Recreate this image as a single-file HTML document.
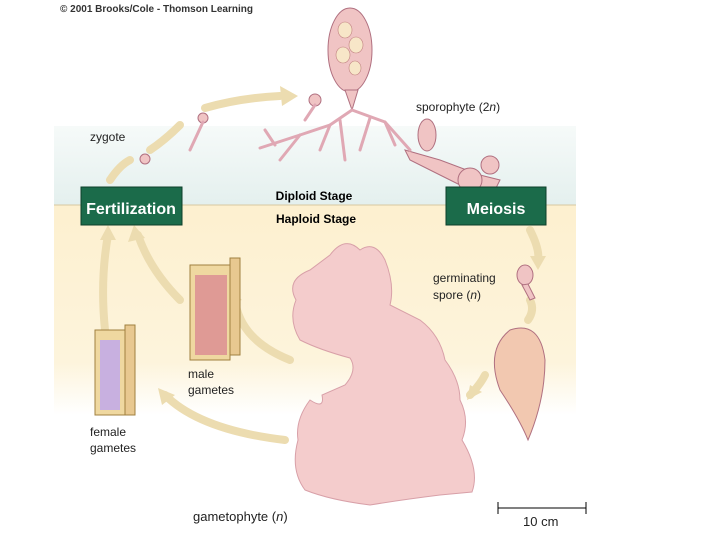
<!DOCTYPE html>
<html><head><style>
body{margin:0;background:#fff;}
svg{display:block;font-family:"Liberation Sans",sans-serif;}
</style></head><body>
<svg width="720" height="540" viewBox="0 0 720 540" xmlns="http://www.w3.org/2000/svg">
<defs>
<linearGradient id="top" x1="0" y1="0" x2="0" y2="1">
<stop offset="0" stop-color="#f6faf9"/><stop offset="1" stop-color="#e4f0ee"/></linearGradient>
<linearGradient id="bot" x1="0" y1="0" x2="0" y2="1">
<stop offset="0" stop-color="#fdf0cf"/><stop offset="0.75" stop-color="#fdf4dc"/><stop offset="1" stop-color="#ffffff"/></linearGradient>
</defs>
<rect x="54" y="126" width="522" height="79" fill="url(#top)"/>
<rect x="54" y="205" width="522" height="210" fill="url(#bot)"/>
<line x1="54" y1="205" x2="576" y2="205" stroke="#d8c8a0" stroke-width="1"/>
<text x="60" y="12" font-size="10" font-weight="bold" fill="#333">© 2001 Brooks/Cole - Thomson Learning</text>

<g fill="none" stroke="#ecdcb0" stroke-width="8" stroke-linecap="round">
<path d="M110 180 Q120 165 130 160"/>
<path d="M150 150 Q165 140 180 125"/>
<path d="M205 108 Q240 98 280 96"/>
<path d="M530 230 Q540 250 538 260"/>
<path d="M530 300 Q535 310 528 320"/>
<path d="M485 375 Q480 385 470 395"/>
<path d="M105 330 Q100 280 108 235"/>
<path d="M180 300 Q150 270 138 235"/>
<path d="M290 360 Q240 340 235 300"/>
<path d="M285 440 Q200 430 165 395"/>
</g>
<g fill="#ecdcb0">
<polygon points="298,96 280,86 282,106"/>
<polygon points="108,225 100,240 116,240"/>
<polygon points="134,225 128,242 145,238"/>
<polygon points="228,287 225,305 242,300"/>
<polygon points="158,388 162,405 175,395"/>
<polygon points="538,270 530,256 546,256"/>
<polygon points="467,400 470,385 482,392"/>
</g>

<g fill="#f0c4c4" stroke="#b07080" stroke-width="1">
<ellipse cx="350" cy="50" rx="22" ry="42"/>
<path d="M345 90 L352 110 L358 90 Z"/>
<ellipse cx="427" cy="135" rx="9" ry="16"/>
<path d="M405 150 L440 160 L480 175 L500 180 L495 190 L470 190 L440 175 L410 160 Z"/>
<circle cx="470" cy="180" r="12"/><circle cx="490" cy="165" r="9"/>
<circle cx="315" cy="100" r="6"/>
<circle cx="145" cy="159" r="5"/>
<circle cx="203" cy="118" r="5"/>
</g>
<g fill="none" stroke="#e0a8b4" stroke-width="3" stroke-linecap="round">
<path d="M352 110 L330 125 L300 135 L260 148"/>
<path d="M352 110 L385 122 L410 150"/>
<path d="M330 125 L320 150 M300 135 L280 160 M370 118 L360 150 M385 122 L395 145 M340 120 L345 160 M275 145 L265 130"/>
<path d="M203 122 L190 150"/>
<path d="M315 105 L305 120"/>
</g>
<g stroke="#c08080" fill="#f7e6c8" stroke-width="0.6">
<ellipse cx="345" cy="30" rx="7" ry="8"/><ellipse cx="356" cy="45" rx="7" ry="8"/><ellipse cx="343" cy="55" rx="7" ry="8"/><ellipse cx="355" cy="68" rx="6" ry="7"/>
</g>

<g fill="#f0c4c4" stroke="#b07080" stroke-width="1">
<ellipse cx="525" cy="275" rx="8" ry="10"/><path d="M522 285 L530 300 L535 298 L528 284Z"/>
<path d="M510 330 Q540 320 545 360 Q545 400 528 440 Q520 420 500 390 Q485 350 510 330Z" fill="#f2c8b0"/>
</g>

<path d="M330 255 Q345 235 360 250 Q375 240 385 260 Q395 285 390 305 L420 320 Q440 335 445 360 Q460 380 460 400 Q470 420 462 440 Q480 470 472 492 L440 495 Q400 500 370 505 Q330 500 305 490 Q290 470 298 440 Q295 420 310 400 Q325 410 322 395 L345 385 Q358 370 350 358 Q320 350 300 340 Q288 320 296 300 Q285 280 310 270 Z" fill="#f4cccc" stroke="#d8a0a8" stroke-width="1"/>

<g stroke="#a08040" stroke-width="1">
<rect x="95" y="330" width="30" height="85" fill="#efd8a0"/>
<rect x="125" y="325" width="10" height="90" fill="#e8c890"/>
<rect x="190" y="265" width="40" height="95" fill="#efd8a0"/>
<rect x="230" y="258" width="10" height="97" fill="#e8c890"/>
</g>
<g fill="#c8b0e0"><rect x="100" y="340" width="20" height="70"/></g>
<g fill="#d88090"><rect x="195" y="275" width="32" height="80" opacity="0.7"/></g>

<rect x="81" y="187" width="101" height="38" fill="#1b6b4a" stroke="#0d3f2a"/>
<text x="131" y="214" font-size="16" font-weight="bold" fill="#fff" text-anchor="middle">Fertilization</text>
<rect x="446" y="187" width="100" height="38" fill="#1b6b4a" stroke="#0d3f2a"/>
<text x="496" y="214" font-size="16" font-weight="bold" fill="#fff" text-anchor="middle">Meiosis</text>
<text x="314" y="200" font-size="12" font-weight="bold" text-anchor="middle">Diploid Stage</text>
<text x="316" y="223" font-size="12" font-weight="bold" text-anchor="middle">Haploid Stage</text>
<g font-size="12" fill="#222">
<text x="90" y="141">zygote</text>
<text x="416" y="111">sporophyte (2<tspan font-style="italic">n</tspan>)</text>
<text x="433" y="282">germinating</text>
<text x="433" y="299">spore (<tspan font-style="italic">n</tspan>)</text>
<text x="188" y="378">male</text>
<text x="188" y="394">gametes</text>
<text x="90" y="436">female</text>
<text x="90" y="452">gametes</text>
<text x="193" y="521" font-size="13">gametophyte (<tspan font-style="italic">n</tspan>)</text>
<text x="523" y="526" font-size="13">10 cm</text>
</g>
<g stroke="#000" stroke-width="1"><line x1="498" y1="508" x2="586" y2="508"/><line x1="498" y1="502" x2="498" y2="514"/><line x1="586" y1="502" x2="586" y2="514"/></g>
</svg>
</body></html>
